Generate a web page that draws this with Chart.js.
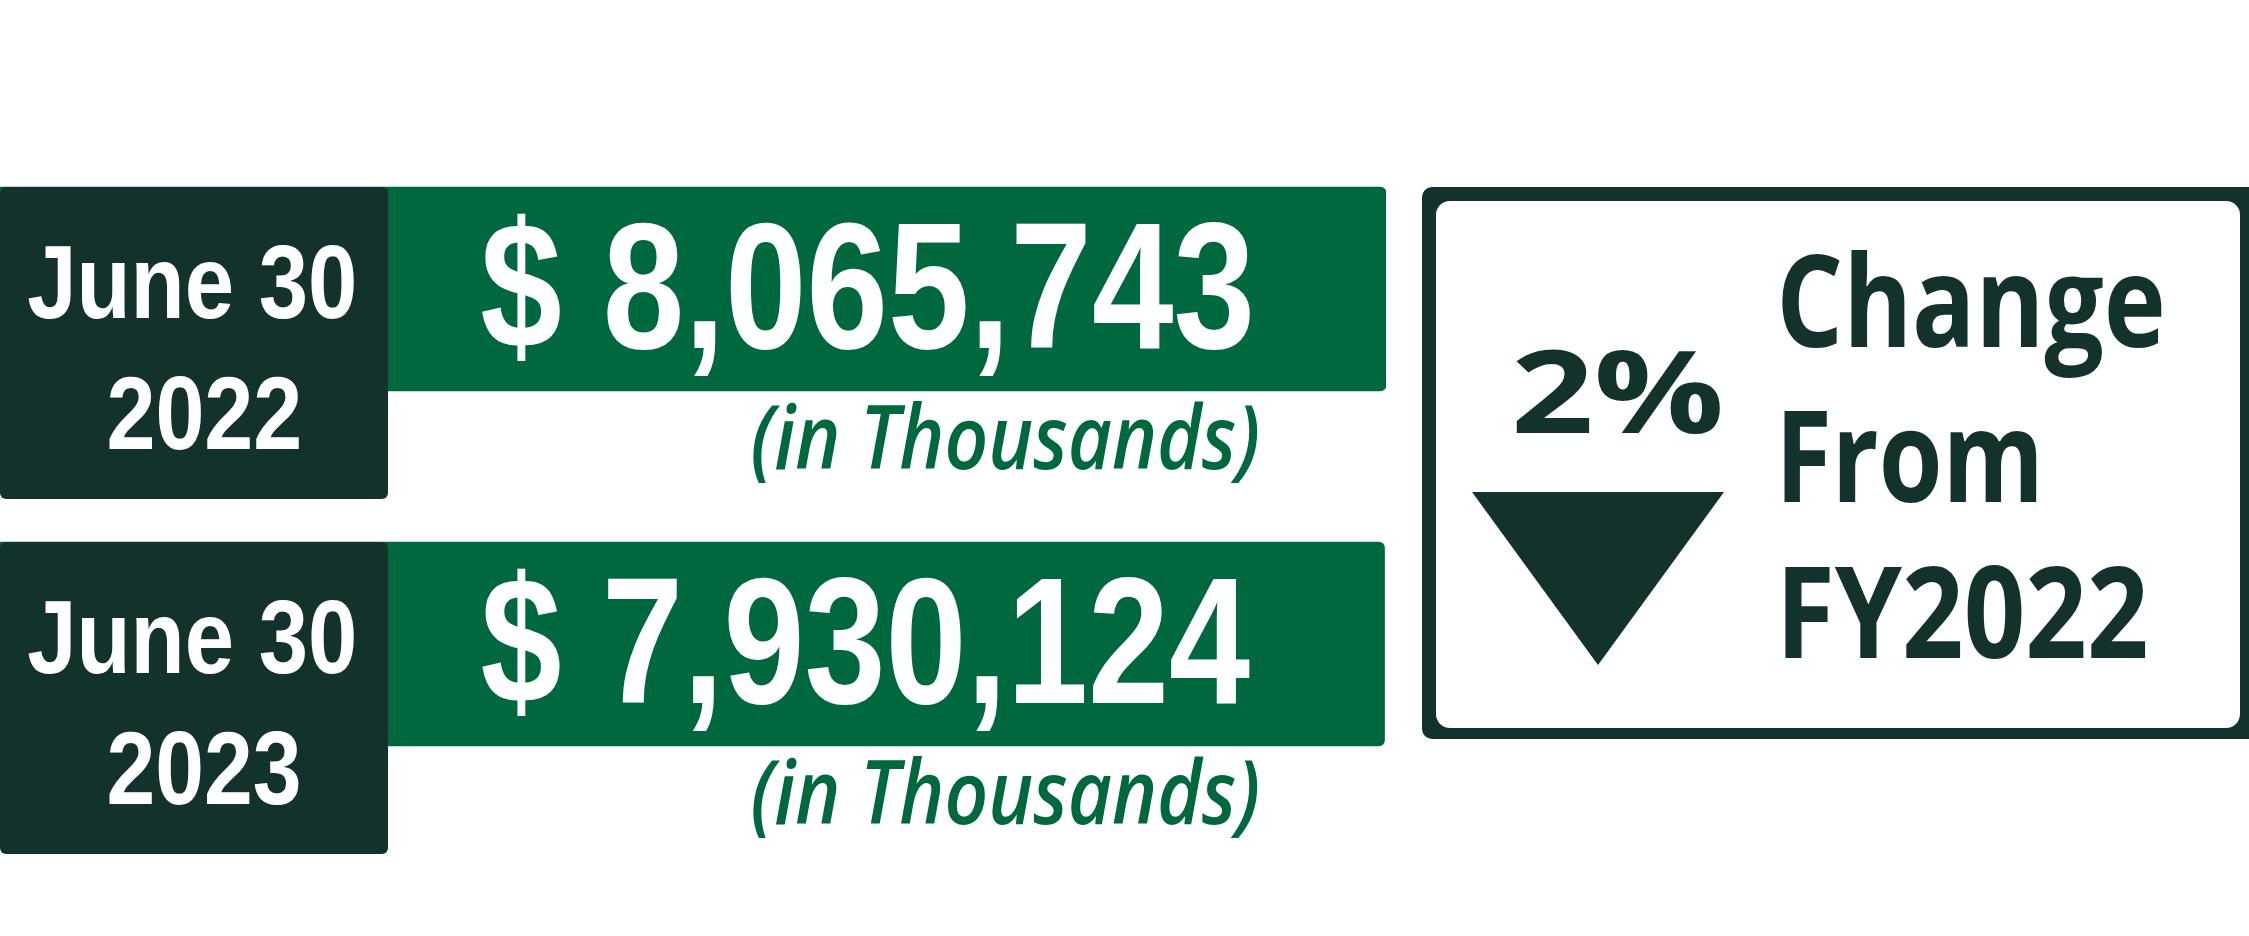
<!DOCTYPE html>
<html>
<head>
<meta charset="utf-8">
<script src="https://cdn.jsdelivr.net/npm/chart.js@4/dist/chart.umd.min.js"></script>
<style>
  html, body { margin: 0; padding: 0; background: #ffffff; }
  #wrap { width: 2249px; height: 936px; }
</style>
</head>
<body>
<div id="wrap"><canvas id="netPosition" width="2249" height="936"></canvas></div>
<script>
const dateLabels = [["June 30", "2022"], ["June 30", "2023"]];
const balances = [8065743, 7930124];
const unitNote = "(in Thousands)";
const changeValue = "2%";
const changeWords = ["Change", "From", "FY2022"];

const GREEN = "#00683e";
const DARK = "#14322c";

const fmtMoney = (v) => `$ ${Number(v).toLocaleString("en-US")}`;

// draw text squeezed/stretched so its ink spans exactly `width` px
function fitText(ctx, text, x, baseline, width, font, color) {
  ctx.save();
  ctx.font = font;
  const m = ctx.measureText(text);
  const ink = m.actualBoundingBoxLeft + m.actualBoundingBoxRight;
  const sx = width / ink;
  ctx.translate(x + m.actualBoundingBoxLeft * sx, baseline);
  ctx.scale(sx, 1);
  ctx.fillStyle = color;
  ctx.textAlign = "left";
  ctx.textBaseline = "alphabetic";
  ctx.fillText(text, 0, 0);
  ctx.restore();
}

function roundRect(ctx, x, y, w, h, r, color) {
  ctx.beginPath();
  ctx.roundRect(x, y, w, h, r);
  ctx.fillStyle = color;
  ctx.fill();
}

const labelsPlugin = {
  id: "labelsPlugin",
  afterDatasetsDraw(chart) {
    const { ctx } = chart;
    const meta = chart.getDatasetMeta(0);
    meta.data.forEach((bar, i) => {
      const top = bar.y - bar.height / 2;
      // date tab over the left end of the bar
      roundRect(ctx, 0, top, 388, 312, 6, DARK);
      fitText(ctx, dateLabels[i][0], 28, top + 131, 326, "bold 104px 'Liberation Sans'", "#ffffff");
      fitText(ctx, dateLabels[i][1], 109, top + 262, 190, "bold 104px 'Liberation Sans'", "#ffffff");
      // value inside the bar
      fitText(ctx, fmtMoney(balances[i]), 482, top + 161, 768, "bold 180px 'Liberation Sans'", "#ffffff");
      // unit note under the bar
      fitText(ctx, unitNote, 753, top + 282, 505, "italic 600 88px 'Open Sans'", GREEN);
    });
  },
  afterDraw(chart) {
    const { ctx } = chart;
    // change panel
    roundRect(ctx, 1422, 187, 860, 552, 10, DARK);
    roundRect(ctx, 1436, 201, 804, 527, 14, "#ffffff");

    fitText(ctx, changeValue, 1516, 433, 205, "bold 115px 'Open Sans'", DARK);

    ctx.beginPath();
    ctx.moveTo(1472, 492);
    ctx.lineTo(1724, 492);
    ctx.lineTo(1598, 665);
    ctx.closePath();
    ctx.fillStyle = DARK;
    ctx.fill();

    const f = "bold 128px 'Open Sans'";
    fitText(ctx, changeWords[0], 1782, 347, 380, f, DARK);
    fitText(ctx, changeWords[1], 1784, 502, 253, f, DARK);
    fitText(ctx, changeWords[2], 1785, 658, 360, f, DARK);
  },
};

function render() {
  new Chart(document.getElementById("netPosition"), {
    type: "bar",
    data: {
      labels: dateLabels.map((d) => d.join(" ")),
      datasets: [{
        data: balances,
        backgroundColor: GREEN,
        barThickness: 204,
        borderRadius: { topLeft: 0, bottomLeft: 0, topRight: 6, bottomRight: 6 },
        borderSkipped: false,
      }],
    },
    options: {
      indexAxis: "y",
      responsive: false,
      animation: false,
      devicePixelRatio: 1,
      layout: { padding: { left: 0, right: 863, top: 111.5, bottom: 114.5 } },
      plugins: { legend: { display: false }, tooltip: { enabled: false } },
      scales: {
        // log axis from 1: both panels read as (nearly) full-width bars, as in the source graphic
        x: { type: "logarithmic", display: false, min: 1, max: Math.max(...balances) },
        y: { display: false },
      },
    },
    plugins: [labelsPlugin],
  });
}

Promise.all([
  document.fonts.load("bold 100px 'Liberation Sans'"),
  document.fonts.load("italic 600 88px 'Open Sans'"),
  document.fonts.load("bold 128px 'Open Sans'"),
]).catch(() => {}).then(render);
</script>
</body>
</html>
